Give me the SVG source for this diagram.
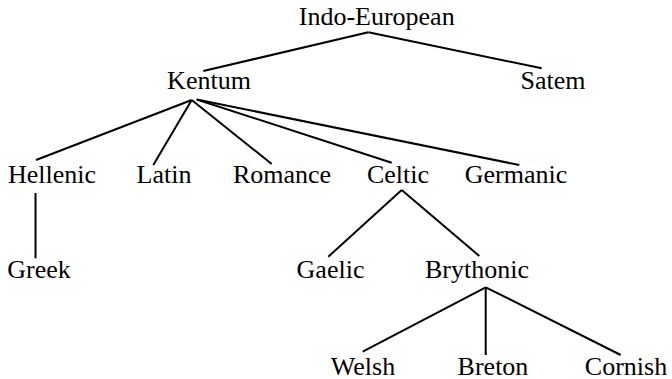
<svg xmlns="http://www.w3.org/2000/svg" width="672" height="379" viewBox="0 0 672 379">
<style>
text{font-family:"Liberation Serif","Times New Roman",serif;font-size:26px;fill:#000;text-anchor:middle}
.c line{stroke:#000;stroke-width:2;stroke-linecap:butt}
</style>
<rect width="672" height="379" fill="#fff"/>
<g class="c" id="connectors">
<line x1="368.3" y1="32.3" x2="203.3" y2="71"/>
<line x1="368.3" y1="32.3" x2="541.7" y2="68.3"/>
<line x1="191.7" y1="100" x2="36" y2="160"/>
<line x1="191.7" y1="100" x2="153.3" y2="165"/>
<line x1="191.7" y1="100" x2="271.7" y2="164"/>
<line x1="196.7" y1="99.5" x2="391.7" y2="162.7"/>
<line x1="196.7" y1="99.5" x2="519.3" y2="165"/>
<line x1="35.5" y1="193" x2="35.5" y2="258.3"/>
<line x1="401.7" y1="190" x2="328.3" y2="256.7"/>
<line x1="401.7" y1="190" x2="479.3" y2="256"/>
<line x1="485.7" y1="287.3" x2="362.7" y2="351.7"/>
<line x1="485.7" y1="287.3" x2="485.7" y2="355"/>
<line x1="485.7" y1="287.3" x2="620.7" y2="355"/>
</g>
<g id="indo-european"><text x="376.7" y="24.5">Indo-European</text></g>
<g id="kentum"><text x="209" y="89.3">Kentum</text></g>
<g id="satem"><text x="553" y="89.3">Satem</text></g>
<g id="hellenic"><text x="52" y="182.7">Hellenic</text></g>
<g id="latin"><text x="164" y="182.7">Latin</text></g>
<g id="romance"><text x="282" y="182.7">Romance</text></g>
<g id="celtic"><text x="398" y="182.7">Celtic</text></g>
<g id="germanic"><text x="516" y="182.7">Germanic</text></g>
<g id="greek"><text x="39" y="278.3">Greek</text></g>
<g id="gaelic"><text x="330.5" y="278.3">Gaelic</text></g>
<g id="brythonic"><text x="477" y="278.3">Brythonic</text></g>
<g id="welsh"><text x="363" y="374.5">Welsh</text></g>
<g id="breton"><text x="493" y="374.5">Breton</text></g>
<g id="cornish"><text x="626" y="374.5">Cornish</text></g>
</svg>
